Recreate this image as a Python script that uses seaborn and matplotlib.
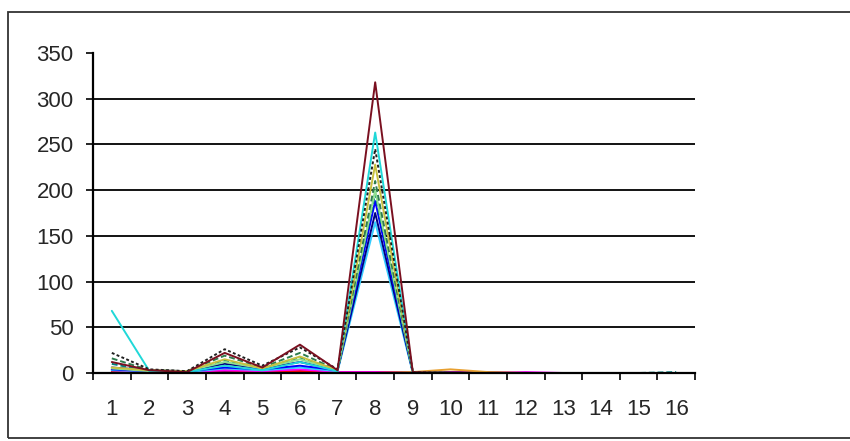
import matplotlib
matplotlib.use("Agg")
import matplotlib.pyplot as plt
import seaborn as sns
import pandas as pd
from matplotlib.patches import Rectangle

# ---- data ----
categories = list(range(1, 17))
maroon   = [12, 3, 1, 22, 6, 31, 3, 318, 1, 0, 0, 0, 0, 0, 0, 0]
blackdot = [22, 4, 2, 26, 8, 28, 4, 245, 1, 0, 0, 0, 0, 0, 0, 0]
cyan     = [68, 2, 1, 8, 3, 12, 2, 263, 0, 0, 0, 0, 0, 0, 0, 0]
olive    = [6, 3, 2, 15, 5, 18, 3, 228, 1, 0, 0, 0, 0, 0, 0, 0]
green    = [16, 3, 2, 19, 6, 22, 3, 210, 1, 0, 0, 0, 0, 0, 0, 0]
lgreen   = [5, 2, 2, 12, 5, 15, 3, 200, 1, 0, 0, 0, 0, 0, 0, 0]
teal     = [10, 2, 2, 14, 5, 17, 3, 196, 1, 0, 0, 0, 0, 0, 0, 1]
blue     = [4, 2, 2, 6, 4, 8, 3, 188, 1, 0, 0, 0, 0, 0, 0, 0]
navy     = [6, 3, 2, 10, 5, 12, 3, 175, 1, 0, 0, 0, 0, 0, 0, 0]
skyblue  = [3, 2, 1, 5, 3, 6, 2, 165, 0, 0, 0, 0, 0, 0, 0, 0]
magenta  = [3, 1, 1, 3, 2, 4, 1, 1, 0, 0, 0, 1, 0, 0, 0, 0]
purple   = [4, 2, 1, 2, 1, 2, 1, 1, 1, 1, 1, 0, 0, 0, 0, 0]
orange   = [0, 0, 0, 0, 0, 0, 0, 0, 1, 4, 1, 0, 0, 0, 0, 0]
red      = [2, 1, 1, 3, 1, 2, 1, 1, 0, 0, 0, 0, 0, 0, 0, 0]

series = [
    ("purple", purple, "#800080", "-"),
    ("red", red, "#FF0000", "-"),
    ("magenta", magenta, "#FF00FF", "-"),
    ("orange", orange, "#E8A030", "-"),
    ("skyblue", skyblue, "#33CCFF", "-"),
    ("navy", navy, "#000080", "-"),
    ("blue", blue, "#0000FF", "-"),
    ("teal", teal, "#008080", (0, (3, 1.5))),
    ("lgreen", lgreen, "#90E090", "-"),
    ("green", green, "#2E7D4F", (0, (3, 1.5))),
    ("olive", olive, "#C8C040", "-"),
    ("cyan", cyan, "#20D8D8", "-"),
    ("blackdot", blackdot, "#202020", (0, (1.5, 1.2))),
    ("maroon", maroon, "#7A1020", "-"),
]
yticks = [0, 50, 100, 150, 200, 250, 300, 350]

sns.set_style("white")
plt.rcParams["font.family"] = ["Liberation Sans", "DejaVu Sans"]
fsz = 16

fig = plt.figure(figsize=(8.5, 4.41), dpi=100)
ax = fig.add_axes([93 / 850, (441 - 373) / 441, (695 - 93) / 850, 320 / 441])

for name, vals, col, ls in series:
    df = pd.DataFrame({"x": categories, "y": vals})
    sns.lineplot(data=df, x="x", y="y", color=col, linewidth=1.4,
                 linestyle=ls, ax=ax, legend=False, zorder=3)

ax.set_xlim(0.5, 16.5)
ax.set_ylim(0, 350)

for v in yticks[1:-1]:
    ax.axhline(v, color="black", lw=1.3, zorder=1)

ax.set_yticks(yticks)
ax.set_yticklabels([str(v) for v in yticks])
ax.set_xticks([c - 0.5 for c in categories] + [16.5])
ax.set_xticklabels([])
ax.set_xticks(categories, minor=True)
ax.set_xticklabels([str(c) for c in categories], minor=True)

ax.tick_params(axis="y", which="major", direction="out", length=5, width=1.2,
               color="black", pad=9, labelsize=fsz)
ax.tick_params(axis="x", which="major", direction="out", length=5, width=1.2,
               color="black")
ax.tick_params(axis="x", which="minor", length=0, pad=19, labelsize=fsz)
ax.tick_params(left=True, bottom=True)

ax.set_xlabel("")
ax.set_ylabel("")
for s in ["top", "right"]:
    ax.spines[s].set_visible(False)
for s in ["left", "bottom"]:
    ax.spines[s].set_color("black")
    ax.spines[s].set_linewidth(1.6)
    ax.spines[s].set_zorder(4)
ax.patch.set_alpha(0)

fig.patches.append(Rectangle((8 / 850, 3 / 441), 1.2, (441 - 12 - 3) / 441,
                             transform=fig.transFigure, fill=False,
                             edgecolor="#333333", linewidth=1.3))

fig.savefig("out.png", dpi=100)
